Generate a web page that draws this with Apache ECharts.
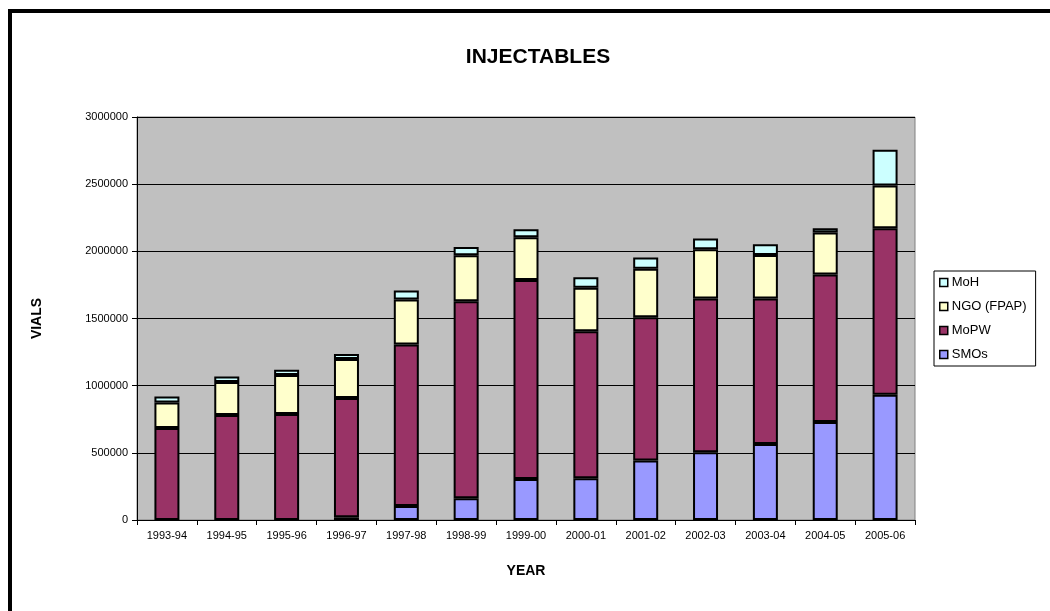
<!DOCTYPE html>
<html>
<head>
<meta charset="utf-8">
<title>INJECTABLES</title>
<script src="https://cdn.jsdelivr.net/npm/echarts@6/dist/echarts.min.js"></script>
<style>
  html, body { margin: 0; padding: 0; background: #ffffff; }
  #chart { width: 1050px; height: 611px; }
</style>
</head>
<body>
<div id="chart"></div>
<script>
// Fiscal years on the category axis
const years = ['1993-94', '1994-95', '1995-96', '1996-97', '1997-98', '1998-99', '1999-00',
               '2000-01', '2001-02', '2002-03', '2003-04', '2004-05', '2005-06'];

// Vials distributed per channel (stacked bottom to top)
const smos  = [0, 0, 0, 20000, 104000, 162000, 306000, 311000, 443000, 505000, 565000, 729000, 933000];
const mopw  = [684000, 781000, 789000, 888000, 1202000, 1467000, 1480000, 1094000, 1067000, 1144000, 1084000, 1099000, 1239000];
const ngo   = [191000, 247000, 291000, 291000, 336000, 341000, 318000, 324000, 361000, 366000, 324000, 312000, 318000];
const moh   = [45000, 41000, 39000, 37000, 67000, 62000, 60000, 79000, 84000, 80000, 79000, 32000, 266000];

// Value axis ticks
const yTicks = [0, 500000, 1000000, 1500000, 2000000, 2500000, 3000000];

const FONT = '"Liberation Sans", Arial, sans-serif';

const chart = echarts.init(document.getElementById('chart'), null, { renderer: 'canvas' });

function barSeries(name, values, color) {
  // Empty segments get no outline so they leave no stray line at the base
  const data = values.map(v => v === 0
    ? { value: v, itemStyle: { borderWidth: 0 } }
    : v);
  return {
    name: name,
    type: 'bar',
    stack: 'total',
    data: data,
    barWidth: 25,
    itemStyle: { color: color, borderColor: '#000000', borderWidth: 2 },
    emphasis: { disabled: true }
  };
}

chart.setOption({
  animation: false,
  backgroundColor: '#ffffff',
  textStyle: { fontFamily: FONT },
  title: {
    text: 'INJECTABLES',
    left: 533,
    top: 42,
    textAlign: 'center',
    textStyle: { fontFamily: FONT, fontSize: 21, fontWeight: 'bold', color: '#000000' }
  },
  grid: {
    left: 137, top: 117, right: 135, bottom: 91,
    show: true,
    backgroundColor: '#c0c0c0',
    borderColor: '#808080',
    borderWidth: 1
  },
  legend: {
    orient: 'vertical',
    left: 934,
    top: 271,
    padding: [5, 9, 5, 5],
    itemGap: 11,
    itemWidth: 8,
    itemHeight: 8,
    backgroundColor: '#ffffff',
    borderColor: '#000000',
    borderWidth: 1,
    data: ['MoH', 'NGO (FPAP)', 'MoPW', 'SMOs'],
    icon: 'rect',
    itemStyle: { borderColor: '#000000', borderWidth: 1.5 },
    textStyle: { fontFamily: FONT, fontSize: 13, color: '#000000', padding: [0, 0, 0, -1] },
    selectedMode: false
  },
  xAxis: {
    type: 'category',
    data: years,
    name: 'YEAR',
    nameLocation: 'middle',
    nameGap: 44,
    nameTextStyle: { fontFamily: FONT, fontSize: 14, fontWeight: 'bold', color: '#000000' },
    axisLine: { lineStyle: { color: '#000000', width: 1 } },
    axisTick: { show: true, alignWithLabel: false, length: 5, lineStyle: { color: '#000000' } },
    axisLabel: { fontFamily: FONT, fontSize: 11, color: '#000000', margin: 10, interval: 0 },
    splitLine: { show: false }
  },
  yAxis: {
    type: 'value',
    min: yTicks[0],
    max: yTicks[yTicks.length - 1],
    interval: yTicks[1] - yTicks[0],
    name: 'VIALS',
    nameLocation: 'middle',
    nameGap: 93,
    nameRotate: 90,
    nameTextStyle: { fontFamily: FONT, fontSize: 14, fontWeight: 'bold', color: '#000000' },
    axisLine: { show: true, lineStyle: { color: '#000000', width: 1 } },
    axisTick: { show: true, inside: false, length: 5, lineStyle: { color: '#000000' } },
    axisLabel: { fontFamily: FONT, fontSize: 11, color: '#000000', margin: 9,
                 formatter: v => String(v) },
    splitLine: { show: true, lineStyle: { color: '#000000', width: 1 } }
  },
  series: [
    barSeries('SMOs', smos, '#9999ff'),
    barSeries('MoPW', mopw, '#993366'),
    barSeries('NGO (FPAP)', ngo, '#ffffcc'),
    barSeries('MoH', moh, '#ccffff')
  ],
  graphic: [
    {
      // Outer frame of the chart sheet (runs past the right and bottom edges)
      type: 'rect',
      silent: true,
      z: 100,
      shape: { x: 10, y: 11, width: 1100, height: 700 },
      style: { fill: 'none', stroke: '#000000', lineWidth: 4 }
    }
  ]
});
</script>
</body>
</html>
